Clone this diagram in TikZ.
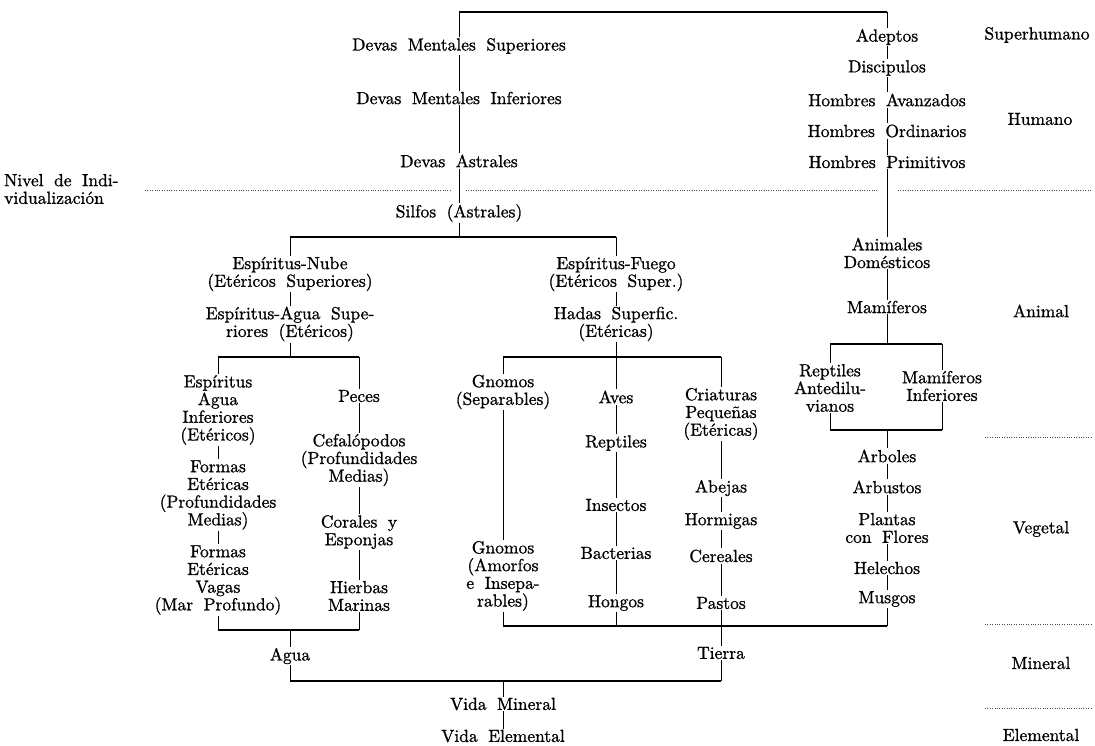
\documentclass[tikz,border=0pt]{standalone}
\usepackage{fontspec}
\newfontfamily\diagfont{lmroman10-regular}[Extension=.otf, FakeBold=1.0]
\protected\def\mynodefont{\diagfont\fontsize{17.5}{17.7}\selectfont\spaceskip=0.6em plus 0.2em\relax}
\begin{document}
\begin{tikzpicture}[x=1pt,y=-1pt,
  every node/.style={font=\mynodefont, inner sep=1pt, align=center},
  vline/.style={line width=0.8pt},
  hbar/.style={line width=1.5pt},
  dotline/.style={line width=0.8pt, black!70, dash pattern=on 0.8pt off 1.6pt}]
\useasboundingbox (0,0) rectangle (1095,745);
% ---------- devas column
\coordinate (top0) at (459,12);
\coordinate (top1) at (887,12);
\node (dms) at (459,46) {Devas Mentales Superiores};
\node (dmi) at (459,98) {Devas Mentales Inferiores};
\node (da) at (459,161) {Devas Astrales};
\node (sil) at (459,213) {Silfos (Astrales)};
% ---------- human column
\node (ade) at (887,37) {Adeptos};
\node (dis) at (887,68) {Discipulos};
\node (hav) at (887,100) {Hombres Avanzados};
\node (hor) at (887,131) {Hombres Ordinarios};
\node (hpr) at (887,162) {Hombres Primitivos};
\node (ani) at (887,253) {Animales\\Domésticos};
\node (mam) at (887,307) {Mamíferos};
\coordinate (mb0) at (830,344);
\coordinate (mb1) at (942,344);
\node (rep) at (830,388) {Reptiles\\Antedilu-\\vianos};
\node (mif) at (942,386) {Mamíferos\\Inferiores};
\coordinate (mc0) at (830,430);
\coordinate (mc1) at (942,430);
\node (arb) at (887,456) {Arboles};
\node (arbu) at (887,487) {Arbustos};
\node (pla) at (887,528) {Plantas\\con Flores};
\node (hel) at (887,568) {Helechos};
\node (mus) at (887,599) {Musgos};
% ---------- sylph branches
\coordinate (b0) at (290,237);
\coordinate (b1) at (616,237);
\node (nube) at (290,274) {Espíritus-Nube\\(Etéricos Superiores)};
\node (eagua) at (290,324) {Espíritus-Agua Supe-\\riores (Etéricos)};
\node (fuego) at (616,274) {Espíritus-Fuego\\(Etéricos Super.)};
\node (hadas) at (616,324) {Hadas Superfic.\\(Etéricas)};
% ---------- water group
\coordinate (wb0) at (218,357);
\coordinate (wb1) at (359,357);
\node (eai) at (218,410) {Espíritus\\Agua\\Inferiores\\(Etéricos)};
\node (fe1) at (218,495) {Formas\\Etéricas\\(Profundidades\\Medias)};
\node (fe2) at (218,580) {Formas\\Etéricas\\Vagas\\(Mar Profundo)};
\node (pec) at (359,396) {Peces};
\node (cef) at (359,460) {Cefalópodos\\(Profundidades\\Medias)};
\node (cor) at (359,532) {Corales y\\Esponjas};
\node (hie) at (359,596) {Hierbas\\Marinas};
\coordinate (wc0) at (218,630);
\coordinate (wc1) at (359,630);
\node (agua) at (290,656) {Agua};
% ---------- earth group
\coordinate (gb0) at (503,357);
\coordinate (gb1) at (721,357);
\node (gno) at (503,392) {Gnomos\\(Separables)};
\node (gam) at (503,576) {Gnomos\\(Amorfos\\e Insepa-\\rables)};
\node (ave) at (616,397) {Aves};
\node (rept) at (616,443) {Reptiles};
\node (ins) at (616,505) {Insectos};
\node (bac) at (616,553) {Bacterias};
\node (hon) at (616,603) {Hongos};
\node (cri) at (721,414) {Criaturas\\Pequeñas\\(Etéricas)};
\node (abe) at (721,488) {Abejas};
\node (hrm) at (721,521) {Hormigas};
\node (cer) at (721,556) {Cereales};
\node (pas) at (721,603) {Pastos};
\coordinate (lb0) at (503,626);
\coordinate (lb1) at (887,626);
\node (tie) at (721,653) {Tierra};
\coordinate (lo0) at (290,681);
\coordinate (lo1) at (721,681);
\node (vm) at (503,704) {Vida Mineral};
\node (ve) at (503,736) {Vida Elemental};
% ---------- side labels
\node[anchor=west, align=left] (niv) at (3,189) {Nivel de Indi-\\vidualización};
\node (lsh) at (1037,35) {Superhumano};
\node (lhu) at (1040,119) {Humano};
\node (lan) at (1041,311) {Animal};
\node (lve) at (1041,529) {Vegetal};
\node (lmi) at (1041,663) {Mineral};
\node (lel) at (1041,735) {Elemental};
% ---------- dotted level lines
\coordinate (d0) at (145,190);
\coordinate (d1) at (452,190);
\coordinate (d2) at (466,190);
\coordinate (d3) at (877,190);
\coordinate (d4) at (898,190);
\coordinate (d5) at (1092,190);
\draw[dotline] (d0) -- (d1) (d2) -- (d3) (d4) -- (d5);
\coordinate (e0) at (985,437);
\coordinate (e1) at (1092,437);
\coordinate (f0) at (985,624);
\coordinate (f1) at (1092,624);
\coordinate (g0) at (985,708);
\coordinate (g1) at (1092,708);
\draw[dotline] (e0) -- (e1) (f0) -- (f1) (g0) -- (g1);
% ---------- connectors
\draw[hbar] (top0) -- (top1);
\draw[vline] (top0) -- (dms) (dms) -- (dmi) (dmi) -- (da) (da) -- (sil) (sil) -- (sil |- b0);
\draw[vline] (top1) -- (ade) (ade) -- (dis) (dis) -- (hav) (hav) -- (hor) (hor) -- (hpr) (hpr) -- (ani) (ani) -- (mam) (mam) -- (mam |- mb0);
\draw[hbar] (mb0) -- (mb1);
\draw[vline] (mb0) -- (rep) (mb1) -- (mif) (rep) -- (mc0) (mif) -- (mc1);
\draw[hbar] (mc0) -- (mc1);
\draw[vline] (arb |- mc0) -- (arb) (arb) -- (arbu) (arbu) -- (pla) (pla) -- (hel) (hel) -- (mus) (mus) -- (lb1);
\draw[hbar] (b0) -- (b1);
\draw[vline] (b0) -- (nube) (nube) -- (eagua) (eagua) -- (eagua |- wb0);
\draw[vline] (b1) -- (fuego) (fuego) -- (hadas) (hadas) -- (hadas |- gb0);
\draw[hbar] (wb0) -- (wb1);
\draw[vline] (wb0) -- (eai) (eai) -- (fe1) (fe1) -- (fe2) (fe2) -- (wc0);
\draw[vline] (wb1) -- (pec) (pec) -- (cef) (cef) -- (cor) (cor) -- (hie) (hie) -- (wc1);
\draw[hbar] (wc0) -- (wc1);
\draw[vline] (agua |- wc0) -- (agua) (agua) -- (lo0);
\draw[hbar] (gb0) -- (gb1);
\draw[vline] (gb0) -- (gno) (gno) -- (gam) (gam) -- (lb0);
\draw[vline] (ave |- gb0) -- (ave) (ave) -- (rept) (rept) -- (ins) (ins) -- (bac) (bac) -- (hon) (hon) -- (hon |- lb0);
\draw[vline] (gb1) -- (cri) (cri) -- (abe) (abe) -- (hrm) (hrm) -- (cer) (cer) -- (pas) (pas) -- (pas |- lb0);
\draw[hbar] (lb0) -- (lb1);
\draw[vline] (tie |- lb0) -- (tie) (tie) -- (lo1);
\draw[hbar] (lo0) -- (lo1);
\draw[vline] (vm |- lo0) -- (vm) (vm) -- (ve);
\end{tikzpicture}
\end{document}
